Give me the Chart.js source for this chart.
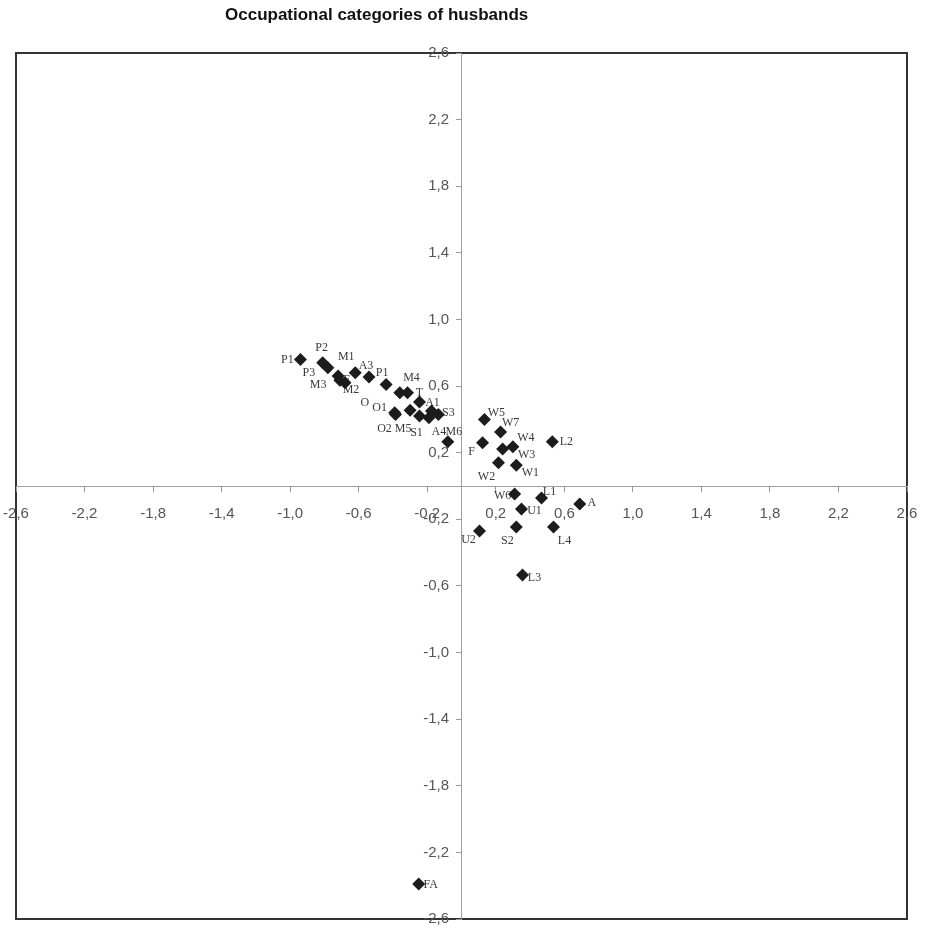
<!DOCTYPE html>
<html>
<head>
<meta charset="utf-8">
<script src="https://cdn.jsdelivr.net/npm/chart.js@4.4.0/dist/chart.umd.min.js"></script>
<style>
  body { margin: 0; background: #fff; }
  .wrap { position: relative; width: 928px; height: 931px; }
  .chart-title {
    position: absolute; left: 225px; top: 5px;
    font: bold 17px "Liberation Sans", Arial, sans-serif; color: #111;
  }
  canvas { position: absolute; left: 0; top: 0; }
</style>
</head>
<body>
<div class="wrap">
  <canvas id="occChart" width="928" height="931"></canvas>
  <div class="chart-title">Occupational categories of husbands</div>
</div>
<script>
// Category codes and their coordinates
const categories = ['P1', 'P2', 'P3', 'M3', 'E', 'M2', 'M1', 'A3', 'P1', 'O',
  'M4', 'T', 'O1', 'O2', 'M5', 'S1', 'A4', 'A1', 'S3', 'M6',
  'W5', 'W7', 'F', 'W4', 'W3', 'W2', 'W1', 'L2', 'W6', 'L1',
  'U1', 'A', 'U2', 'S2', 'L4', 'L3', 'FA'];
const xValues = [-0.94, -0.81, -0.78, -0.72, -0.71, -0.68, -0.62, -0.54, -0.44, -0.36,
  -0.315, -0.245, -0.39, -0.385, -0.30, -0.245, -0.19, -0.175, -0.135, -0.08,
  0.134, 0.228, 0.123, 0.30, 0.24, 0.216, 0.32, 0.53, 0.31, 0.467,
  0.35, 0.69, 0.105, 0.32, 0.537, 0.356, -0.25];
const yValues = [0.76, 0.74, 0.71, 0.66, 0.635, 0.62, 0.68, 0.655, 0.61, 0.56,
  0.56, 0.505, 0.44, 0.43, 0.455, 0.42, 0.41, 0.45, 0.43, 0.265,
  0.40, 0.325, 0.26, 0.235, 0.222, 0.14, 0.125, 0.265, -0.048, -0.072,
  -0.138, -0.108, -0.27, -0.246, -0.246, -0.535, -2.39];
const tickValues = [-2.6, -2.2, -1.8, -1.4, -1.0, -0.6, -0.2, 0.2, 0.6, 1.0, 1.4, 1.8, 2.2, 2.6];

// where each code sits relative to its marker (px)
const labelOffsets = [[-13, 0], [-1, -15], [-19, 5], [-20, 9], [7, 0], [6, 7], [-9, -16], [-3, -11], [-4, -12], [-35, 10],
  [4, -15], [0, -9], [-15, -5], [-11, 14], [-7, 19], [-3, 17], [10, 14], [1, -8], [10, -2], [6, -10],
  [12, -7], [10, -9], [-11, 9], [13, -9], [24, 6], [-12, 14], [14, 8], [14, 0], [-12, 2], [8, -6],
  [13, 2], [12, -1], [-11, 9], [-9, 14], [11, 14], [12, 3], [12, 1]];

const points = xValues.map((x, i) => ({ x: x, y: yValues[i] }));

// frame around the plot area
const frameBox = {
  id: 'frameBox',
  beforeDraw(chart) {
    const { ctx, chartArea: a } = chart;
    ctx.save();
    ctx.fillStyle = '#fff';
    ctx.fillRect(0, 0, chart.width, chart.height);
    ctx.strokeStyle = '#333';
    ctx.lineWidth = 2;
    ctx.strokeRect(a.left, a.top, a.right - a.left, a.bottom - a.top);
    ctx.restore();
  }
};

// category codes next to the diamonds (drawn underneath them)
const pointLabels = {
  id: 'pointLabels',
  beforeDatasetsDraw(chart) {
    const ctx = chart.ctx;
    const meta = chart.getDatasetMeta(0);
    ctx.save();
    ctx.font = '12px "Liberation Serif", "Times New Roman", serif';
    ctx.fillStyle = '#3a3a3a';
    ctx.textAlign = 'center';
    ctx.textBaseline = 'middle';
    meta.data.forEach((pt, i) => {
      const off = labelOffsets[i];
      ctx.fillText(categories[i], pt.x + off[0], pt.y + off[1]);
    });
    ctx.restore();
  }
};

const fmt = (v) => v.toFixed(1).replace('.', ',');
const setTicks = (axis) => { axis.ticks = tickValues.map(v => ({ value: v })); };
const tickFont = { family: '"Liberation Sans", Arial, sans-serif', size: 15 };

const ctx = document.getElementById('occChart').getContext('2d');
new Chart(ctx, {
  type: 'scatter',
  data: {
    datasets: [{
      data: points,
      pointStyle: 'rectRot',
      pointRadius: 6.5,
      pointBackgroundColor: '#1c1c1c',
      pointBorderWidth: 0
    }]
  },
  options: {
    responsive: false,
    animation: false,
    layout: { padding: { left: 16, right: 21, top: 53, bottom: 12 } },
    plugins: {
      legend: { display: false },
      tooltip: { enabled: false }
    },
    scales: {
      x: {
        type: 'linear',
        position: { y: 0 },
        min: -2.6,
        max: 2.6,
        afterBuildTicks: setTicks,
        // long tick with a dash so only a short mark shows; pushes the labels down
        grid: { display: true, drawOnChartArea: false, drawTicks: true, tickLength: 19,
          tickBorderDash: [5, 40], color: '#999' },
        border: { display: true, color: '#a0a0a0', width: 1 },
        ticks: {
          autoSkip: false,
          maxRotation: 0,
          padding: 0,
          color: '#555',
          font: tickFont,
          callback: fmt
        }
      },
      y: {
        type: 'linear',
        position: { x: 0 },
        min: -2.6,
        max: 2.6,
        afterBuildTicks: setTicks,
        grid: { display: true, drawOnChartArea: false, drawTicks: true, tickLength: 5, color: '#999' },
        border: { display: true, color: '#a0a0a0', width: 1 },
        ticks: {
          autoSkip: false,
          padding: 0,
          color: '#555',
          font: tickFont,
          callback: (v) => fmt(v) + '   '
        }
      }
    }
  },
  plugins: [frameBox, pointLabels]
});
</script>
</body>
</html>
